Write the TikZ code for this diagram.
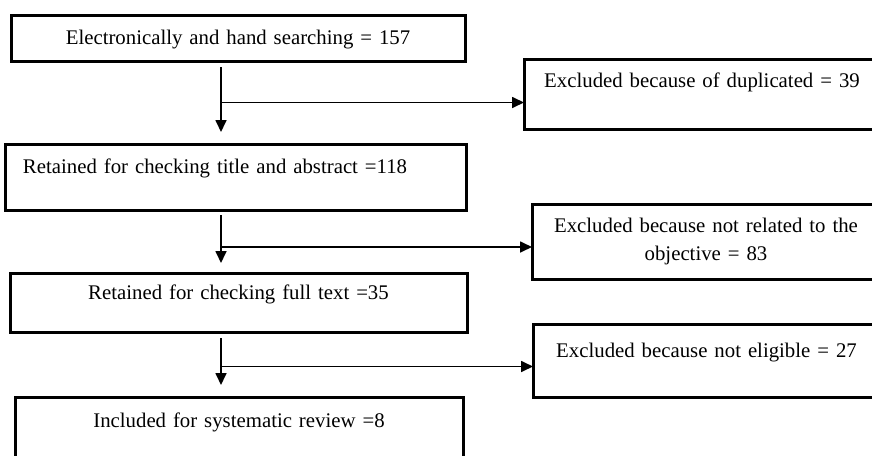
\documentclass[tikz,border=0pt]{standalone}
\usepackage{fontspec}
\setmainfont{Liberation Serif}
\usetikzlibrary{arrows.meta}
\tikzset{
  box/.style={draw=black, line width=3pt, rectangle, inner sep=0pt, outer sep=0pt,
    anchor=north west, align=center, font=\fontsize{20.8}{28}\selectfont},
  arr/.style={draw=black, line width=1.7pt, -{Triangle[length=12pt,width=11pt]}},
  seg/.style={draw=black, line width=1.7pt}
}
\begin{document}
\begin{tikzpicture}[x=1pt,y=-1pt]
\useasboundingbox (0,0) rectangle (872,455);
\clip (0,0) rectangle (872,455);
% left column
\node[box, text width=454pt, text height=29pt, text depth=17pt] (b1) at (11,15)
  {Electronically and hand searching = 157};
\node[box, text width=425pt, inner xsep=18pt, align=left, text height=29pt, text depth=37pt] (b3) at (5,144)
  {Retained for checking title and abstract =118};
\node[box, text width=457pt, text height=26pt, text depth=33pt] (b5) at (10,273)
  {Retained for checking full text =35};
\node[box, text width=448pt, text height=30pt, text depth=43pt] (b7) at (15,397)
  {Included for systematic review =8};
% right column
\node[box, text width=356pt, text height=28pt, text depth=42pt] (b2) at (524,59)
  {Excluded because of duplicated = 39};
\node[box, text width=348pt, minimum height=75pt] (b4) at (532,204)
  {Excluded because not related to the\\objective = 83};
\node[box, text width=347pt, text height=33pt, text depth=40pt] (b6) at (533,324)
  {Excluded because not eligible = 27};
% connectors
\coordinate (s1) at (221,67);
\coordinate (j1) at (221,102.5);
\coordinate (s2) at (221,215);
\coordinate (j2) at (221,247);
\coordinate (s3) at (221,338);
\coordinate (j3) at (221,366.5);
\draw[arr, shorten >=12pt] (s1) -- (s1 |- b3.north);
\draw[arr] (j1) -- (j1 -| b2.west);
\draw[arr, shorten >=10pt] (s2) -- (s2 |- b5.north);
\draw[arr] (j2) -- (j2 -| b4.west);
\draw[arr, shorten >=12pt] (s3) -- (s3 |- b7.north);
\draw[arr] (j3) -- (j3 -| b6.west);
\end{tikzpicture}
\end{document}
